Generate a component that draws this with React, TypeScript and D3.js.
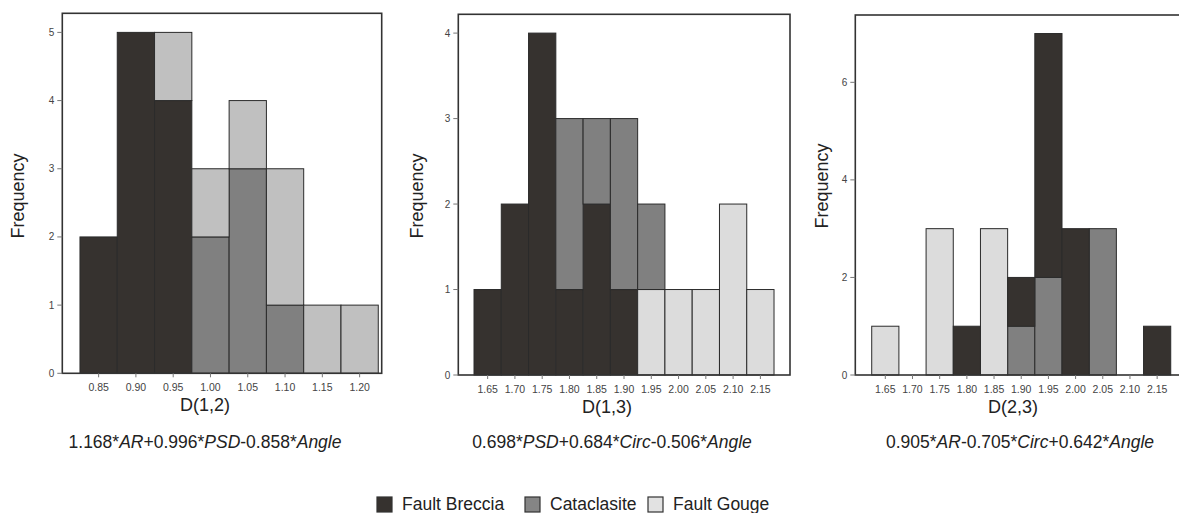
import React from "react";
import * as d3 from "d3";

// ---------- data ----------
const seriesNames = ["Fault Breccia", "Cataclasite", "Fault Gouge"];

const bins1 = [0.85, 0.9, 0.95, 1.0, 1.05, 1.1, 1.15, 1.2];
const breccia1 = [2, 5, 4, 0, 0, 0, 0, 0];
const cataclasite1 = [0, 0, 0, 2, 3, 1, 0, 0];
const gouge1 = [0, 0, 1, 1, 1, 2, 1, 1];

const bins2 = [1.65, 1.7, 1.75, 1.8, 1.85, 1.9, 1.95, 2.0, 2.05, 2.1, 2.15];
const breccia2 = [1, 2, 4, 1, 2, 1, 0, 0, 0, 0, 0];
const cataclasite2 = [0, 0, 0, 2, 1, 2, 1, 0, 0, 0, 0];
const gouge2 = [0, 0, 0, 0, 0, 0, 1, 1, 1, 2, 1];

const bins3 = [1.65, 1.7, 1.75, 1.8, 1.85, 1.9, 1.95, 2.0, 2.05, 2.1, 2.15];
const breccia3 = [0, 0, 0, 1, 0, 1, 5, 3, 0, 0, 1];
const cataclasite3 = [0, 0, 0, 0, 0, 1, 2, 0, 3, 0, 0];
const gouge3 = [1, 0, 3, 0, 3, 0, 0, 0, 0, 0, 0];

const yTicks1 = [0, 1, 2, 3, 4, 5];
const yTicks2 = [0, 1, 2, 3, 4];
const yTicks3 = [0, 2, 4, 6];

const xTitles = ["D(1,2)", "D(1,3)", "D(2,3)"];
// formula parts: [text, italic]
const formula1: [string, boolean][] = [["1.168*", false], ["AR", true], ["+0.996*", false], ["PSD", true], ["-0.858*", false], ["Angle", true]];
const formula2: [string, boolean][] = [["0.698*", false], ["PSD", true], ["+0.684*", false], ["Circ", true], ["-0.506*", false], ["Angle", true]];
const formula3: [string, boolean][] = [["0.905*", false], ["AR", true], ["-0.705*", false], ["Circ", true], ["+0.642*", false], ["Angle", true]];

// ---------- layout / style ----------
const W = 1179;
const H = 513;
const FONT = "'Liberation Sans', Arial, sans-serif";
const colBreccia = "#36322f";
const colCat = "#808080";

type Panel = {
  bins: number[];
  series: Record<string, number[]>;
  order: string[];
  yTicks: number[];
  xDomain: [number, number];
  yMax: number;
  left: number;
  right: number;
  top: number;
  bottom: number;
  gougeColor: string;
  title: string;
  formula: [string, boolean][];
  freqX: number;
  freqY: number;
  titleX: number;
  formulaX: number;
  binWidth: number;
};

const panels: Panel[] = [
  {
    bins: bins1,
    series: { "Fault Breccia": breccia1, Cataclasite: cataclasite1, "Fault Gouge": gouge1 },
    order: ["Fault Breccia", "Cataclasite", "Fault Gouge"],
    yTicks: yTicks1,
    xDomain: [0.8013, 1.2296],
    yMax: 5.28,
    left: 62.3,
    right: 381.7,
    top: 13.3,
    bottom: 373.3,
    gougeColor: "#c0c0c0",
    title: xTitles[0],
    formula: formula1,
    freqX: 24,
    freqY: 196,
    titleX: 205,
    formulaX: 205,
    binWidth: 0.05,
  },
  {
    bins: bins2,
    series: { "Fault Breccia": breccia2, Cataclasite: cataclasite2, "Fault Gouge": gouge2 },
    order: ["Fault Breccia", "Fault Gouge", "Cataclasite"],
    yTicks: yTicks2,
    xDomain: [1.5962, 2.2043],
    yMax: 4.22,
    left: 458.3,
    right: 790,
    top: 14.3,
    bottom: 375,
    gougeColor: "#dcdcdc",
    title: xTitles[1],
    formula: formula2,
    freqX: 423,
    freqY: 196,
    titleX: 607,
    formulaX: 612,
    binWidth: 0.05,
  },
  {
    bins: bins3,
    series: { "Fault Breccia": breccia3, Cataclasite: cataclasite3, "Fault Gouge": gouge3 },
    order: ["Cataclasite", "Fault Gouge", "Fault Breccia"],
    yTicks: yTicks3,
    xDomain: [1.5948, 2.204],
    yMax: 7.38,
    left: 855.3,
    right: 1186.5,
    top: 15,
    bottom: 375,
    gougeColor: "#dcdcdc",
    title: xTitles[2],
    formula: formula3,
    freqX: 828,
    freqY: 186,
    titleX: 1013,
    formulaX: 1020,
    binWidth: 0.05,
  },
];

function PanelView({ p }: { p: Panel }) {
  const x = d3.scaleLinear().domain(p.xDomain).range([p.left, p.right]);
  const y = d3.scaleLinear().domain([0, p.yMax]).range([p.bottom, p.top]);
  const rows = p.bins.map((b, i) => {
    const r: any = { bin: b };
    seriesNames.forEach((s) => (r[s] = p.series[s][i]));
    return r;
  });
  const stacked = d3.stack<any>().keys(p.order)(rows);
  const colorOf = (k: string) =>
    k === "Fault Breccia" ? colBreccia : k === "Cataclasite" ? colCat : p.gougeColor;
  return (
    <g>
      <rect x={p.left} y={p.top} width={p.right - p.left} height={p.bottom - p.top} fill="#fff" stroke="none" />
      {stacked.map((layer) =>
        layer.map((d, i) => {
          const v = d[1] - d[0];
          if (v <= 0) return null;
          const b = p.bins[i];
          return (
            <rect
              key={layer.key + "-" + i}
              x={x(b - p.binWidth / 2)}
              y={y(d[1])}
              width={x(b + p.binWidth / 2) - x(b - p.binWidth / 2)}
              height={y(d[0]) - y(d[1])}
              fill={colorOf(layer.key)}
              stroke="#2b2b2b"
              strokeWidth={1}
            />
          );
        })
      )}
      <rect x={p.left} y={p.top} width={p.right - p.left} height={p.bottom - p.top} fill="none" stroke="#333" strokeWidth={1.6} />
      {p.yTicks.map((t) => (
        <g key={"yt" + t}>
          <line x1={p.left - 5} x2={p.left} y1={y(t)} y2={y(t)} stroke="#777" strokeWidth={1} />
          <text x={p.left - 8} y={y(t)} dy="0.35em" textAnchor="end" fontSize={10} fill="#444" fontFamily={FONT}>
            {t}
          </text>
        </g>
      ))}
      {p.bins.map((b) => (
        <g key={"xt" + b}>
          <line x1={x(b)} x2={x(b)} y1={p.bottom} y2={p.bottom + 4} stroke="#777" strokeWidth={1} />
          <text x={x(b)} y={p.bottom + 17.5} textAnchor="middle" fontSize={10.5} fill="#444" fontFamily={FONT}>
            {d3.format(".2f")(b)}
          </text>
        </g>
      ))}
      <text x={p.titleX} y={p.bottom + 37.5} textAnchor="middle" fontSize={18} fill="#222" fontFamily={FONT}>
        {p.title}
      </text>
      <text
        transform={`translate(${p.freqX},${p.freqY}) rotate(-90)`}
        textAnchor="middle"
        fontSize={18}
        fill="#222"
        fontFamily={FONT}
      >
        Frequency
      </text>
      <text x={p.formulaX} y={448} textAnchor="middle" fontSize={17.5} fill="#222" fontFamily={FONT}>
        {p.formula.map(([s, it], i) => (
          <tspan key={i} fontStyle={it ? "italic" : "normal"}>
            {s}
          </tspan>
        ))}
      </text>
    </g>
  );
}

const legendItems = [
  { name: seriesNames[0], color: colBreccia, x: 377 },
  { name: seriesNames[1], color: "#858585", x: 525 },
  { name: seriesNames[2], color: "#e2e2e2", x: 648 },
];

export default function App() {
  return (
    <svg width={W} height={H} style={{ position: "absolute", left: 0, top: 0, background: "#fff" }}>
      <rect x={0} y={0} width={W} height={H} fill="#fff" />
      {panels.map((p, i) => (
        <PanelView key={i} p={p} />
      ))}
      {legendItems.map((l) => (
        <g key={l.name}>
          <rect x={l.x} y={497} width={15} height={15} fill={l.color} stroke="#333" strokeWidth={1.2} />
          <text x={l.x + 25} y={509.5} fontSize={17.5} fill="#222" fontFamily={FONT}>
            {l.name}
          </text>
        </g>
      ))}
    </svg>
  );
}
